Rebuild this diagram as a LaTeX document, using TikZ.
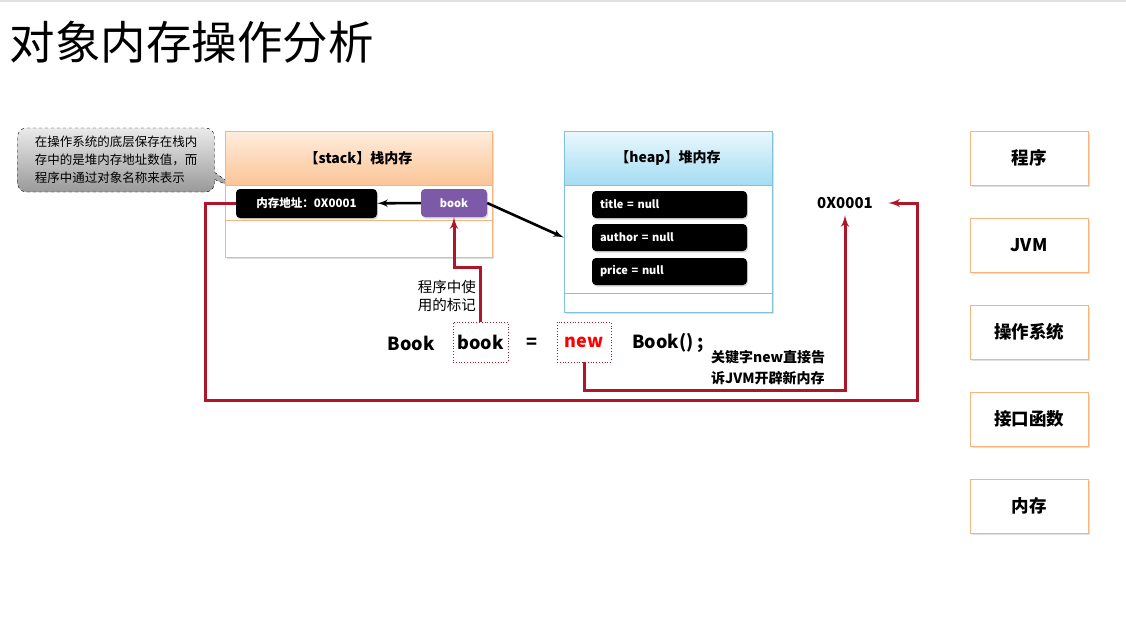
\documentclass[tikz,border=0pt]{standalone}
\usepackage{fontspec}
\setmainfont{Noto Sans CJK SC}
\usepackage{xcolor}
\usetikzlibrary{shapes,arrows,shadows}

\definecolor{stackline}{RGB}{247,180,125}
\definecolor{stacktop}{RGB}{254,237,222}
\definecolor{stackbot}{RGB}{251,197,150}
\definecolor{heapline}{RGB}{128,196,220}
\definecolor{heaptop}{RGB}{234,248,253}
\definecolor{heapbot}{RGB}{164,220,243}
\definecolor{bookpurple}{RGB}{124,90,168}
\definecolor{linkred}{RGB}{176,22,42}

\newcommand{\fs}[2][1.2]{\fontsize{#2}{#1\dimexpr #2pt\relax}\selectfont}

\begin{document}
\begin{tikzpicture}[x=1pt, y=-1pt, node distance=87pt,
    membox/.style={rectangle, draw, fill=white, drop shadow={opacity=0.25, shadow xshift=1.5pt, shadow yshift=-1.5pt}},
    headbox/.style={rectangle, draw, minimum height=54pt, font=\fs{14}\bfseries},
    field/.style={rectangle, fill=black, text=white, rounded corners=4pt, minimum height=27pt, font=\fs{11}\bfseries, drop shadow={opacity=0.3, shadow xshift=1pt, shadow yshift=-1.5pt}},
    codeword/.style={font=\fs{18}\bfseries, inner sep=2pt},
    dotbox/.style={draw=linkred, dotted, thick, minimum width=55pt, minimum height=40pt},
    layer/.style={membox, draw=stackline, minimum width=118pt, minimum height=54pt, font=\fs{17.5}\bfseries},
    line/.style={draw, -latex', line width=2.6pt},
    redline/.style={draw=linkred, -latex', line width=3pt}]

    \useasboundingbox (0,0) rectangle (1126,623);
    \draw[black!12, line width=2pt] (0,1) -- (1126,1);

    % Nodes
    \node [anchor=west, font=\fs{45.5}] (title) at (6,42) {对象内存操作分析};

    \node [rectangle callout, callout absolute pointer={(241,191)}, draw, dashed, rounded corners=9pt,
        top color=black!8, bottom color=black!40, minimum width=197pt, minimum height=64pt,
        align=left, font=\fontsize{12.5}{18}\selectfont, inner sep=3pt] (tip) at (116,160)
        {在操作系统的底层保存在栈内\\存中的是堆内存地址数值，而\\程序中通过对象名称来表示};

    \node [membox, draw=stackline, minimum width=267pt, minimum height=126pt] (stack) at (358.5,194) {};
    \node [headbox, draw=stackline, top color=stacktop, bottom color=stackbot, minimum width=267pt] (stackhead) at (358.5,158) {【stack】栈内存};
    \draw [stackline] (225,220) -- (492,220);

    \node [membox, draw=heapline, minimum width=208pt, minimum height=181pt] (heap) at (668,221.5) {};
    \node [headbox, draw=heapline, top color=heaptop, bottom color=heapbot, minimum width=208pt] (heaphead) at (668,158) {【heap】堆内存};
    \draw [heapline] (564,293) -- (772,293);

    \node [field, minimum width=141pt, minimum height=29pt, font=\fs{11.5}\bfseries] (addr) at (306.5,203.5) {内存地址：0X0001};
    \node [field, fill=bookpurple, minimum width=66pt, minimum height=28pt] (bookref) at (454,203) {book};

    \node [field, minimum width=155pt, text width=139pt, align=left] (title field) at (669.5,204.5) {title = null};
    \node [field, minimum width=155pt, text width=139pt, align=left] (author field) at (669.5,237.5) {author = null};
    \node [field, minimum width=155pt, text width=139pt, align=left] (price field) at (669.5,271.5) {price = null};

    \node [font=\fs{15}\bfseries] (addrval) at (845,203) {0X0001};

    \node [codeword] (cls) at (411,343) {Book};
    \node [codeword, dotbox] (bookvar) at (480.5,342) {book};
    \node [codeword] (eq) at (532,343) {=};
    \node [codeword, dotbox, minimum width=54pt, text=red] (newkw) at (584,342) {new};
    \node [codeword] (ctor) at (668,343) {Book() ;};

    \node [anchor=east, align=right, font=\fontsize{14.5}{18}\selectfont, inner sep=1pt] (varnote) at (477,296) {程序中使\\用的标记};
    \node [anchor=west, align=left, font=\fontsize{14}{21}\selectfont\bfseries, inner sep=1pt] (newnote) at (710,368) {关键字new直接告\\诉JVM开辟新内存};

    \node [layer] (prog) at (1029,158) {程序};
    \node [layer, below of=prog] (jvm) {JVM};
    \node [layer, below of=jvm] (os) {操作系统};
    \node [layer, below of=os] (api) {接口函数};
    \node [layer, below of=api] (ram) {内存};

    \coordinate (bend) at (917,400);

    % Paths
    \path [line] (bookref) -- (addr);
    \path [line] (bookref.east) -- ([yshift=-16pt]heap.west);
    \path [redline] (bookvar.north) -- ++(0,-54) -| (bookref.south);
    \path [redline, shorten >=3pt] (newkw.south) -- ++(0,28) -| (addrval.south);
    \path [redline, shorten >=12pt] (addr.west) -- ++(-30,0) |- (bend) |- (addrval.east);

\end{tikzpicture}
\end{document}
